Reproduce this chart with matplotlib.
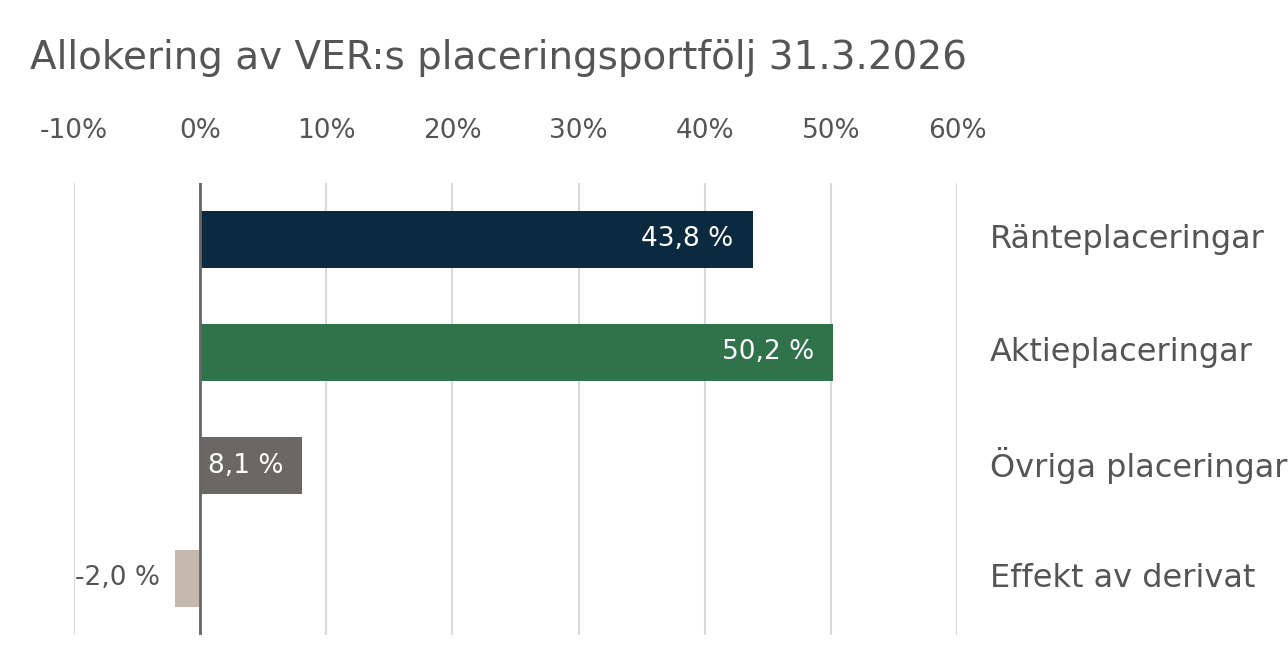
import matplotlib
matplotlib.use("Agg")
import matplotlib.pyplot as plt

categories = ["Ränteplaceringar", "Aktieplaceringar", "Övriga placeringar", "Effekt av derivat"]
values = [43.8, 50.2, 8.1, -2.0]
colors = ["#0c2a3f", "#30734a", "#6b6766", "#c3b8ab"]
ticks = [-10, 0, 10, 20, 30, 40, 50, 60]

plt.rcParams['font.family'] = ['Liberation Sans Narrow', 'DejaVu Sans']
txt = "#555555"
fig = plt.figure(figsize=(12.88, 6.72), dpi=100)
ax = fig.add_axes([74/1288, 1-635/672, (957-74)/1288, (635-183)/672])
y = list(range(len(categories)))
ax.barh(y, values, height=0.5, color=colors, zorder=3)
ax.set_ylim(len(categories)-0.5, -0.5)
ax.set_xlim(-10, 60)
ax.set_xticks(ticks)
ax.set_xticklabels([f"{t}%" for t in ticks], fontsize=19, color=txt)
ax.xaxis.tick_top()
ax.tick_params(axis='x', length=0, pad=28)
ax.set_yticks([])
for s in ax.spines.values():
    s.set_visible(False)
ax.grid(axis='x', color="#d9d9d9", linewidth=1.5, zorder=0)
ax.axvline(0, color="#666666", linewidth=2, zorder=4)
for yi, v, c in zip(y, values, categories):
    lab = f"{v:.1f}".replace(".", ",") + " %"
    if v >= 0:
        ax.text(v - 1.5, yi, lab, ha='right', va='center', color='white', fontsize=19, zorder=5)
    else:
        ax.text(v - 1.2, yi, lab, ha='right', va='center', color=txt, fontsize=19, zorder=5)
    ax.text(62.6, yi, c, ha='left', va='center', color=txt, fontsize=23, clip_on=False)
fig.text(30/1288, 1-58/672, "Allokering av VER:s placeringsportfölj 31.3.2026", fontsize=28,
         color=txt, ha='left', va='center')
fig.savefig("out.png", dpi=100)
